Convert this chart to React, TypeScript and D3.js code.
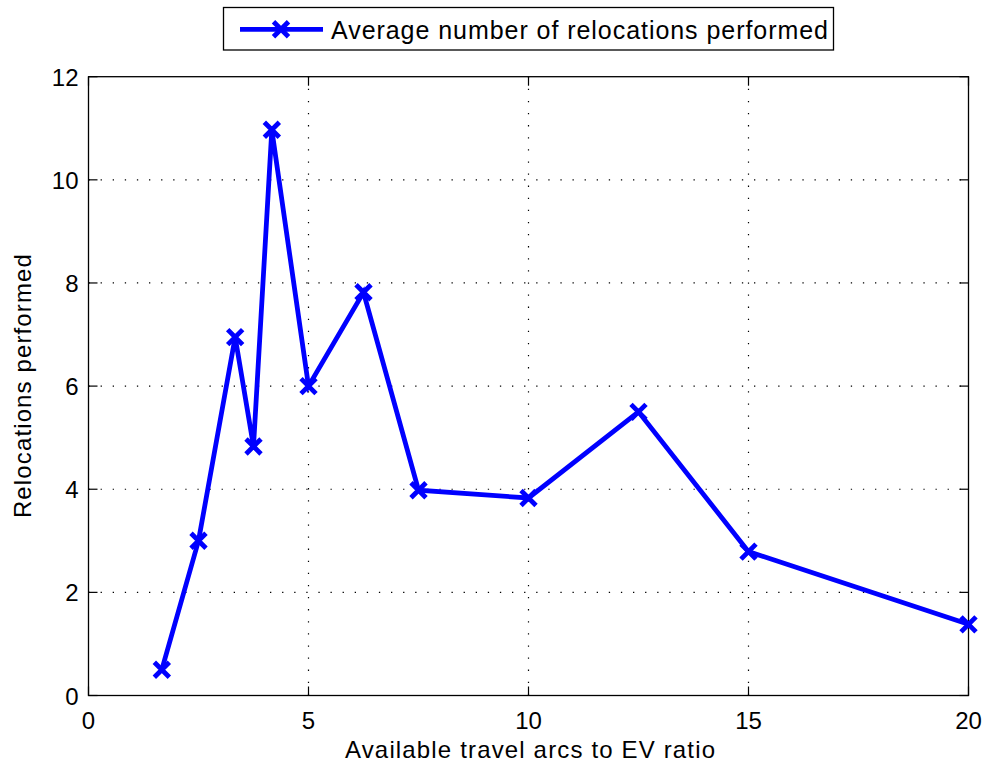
import * as d3 from "d3";
import { useEffect, useRef } from "react";

// ratio of available travel arcs to EVs
const ratios = [5 / 3, 2.5, 10 / 3, 3.75, 25 / 6, 5, 6.25, 7.5, 10, 12.5, 15, 20];
// average relocations performed
const relocations = [0.5, 3.0, 6.95, 4.83, 10.97, 6.0, 7.82, 3.98, 3.83, 5.5, 2.79, 1.38];
const xTicks = [0, 5, 10, 15, 20];
const yTicks = [0, 2, 4, 6, 8, 10, 12];
const legendLabel = "Average number of relocations performed";
const xLabel = "Available travel arcs to EV ratio";
const yLabel = "Relocations performed";

const App = () => {
  const ref = useRef<SVGSVGElement>(null);

  useEffect(() => {
    const W = 984, H = 765;
    const m = { left: 88.5, right: 968.5, top: 76.7, bottom: 695.5 };
    const svg = d3.select(ref.current);
    svg.selectAll("*").remove();

    const x = d3.scaleLinear().domain([0, 20]).range([m.left, m.right]);
    const y = d3.scaleLinear().domain([0, 12]).range([m.bottom, m.top]);
    const font = "'Liberation Sans', Arial, sans-serif";
    const blue = "#0000ff";

    svg.append("rect").attr("width", W).attr("height", H).attr("fill", "white");

    // dotted grid
    const grid = svg.append("g").attr("stroke", "black").attr("stroke-width", 1.2)
      .attr("stroke-dasharray", "1.3,10.8");
    grid.selectAll("line.gx").data(xTicks.slice(1, -1)).enter().append("line")
      .attr("x1", d => x(d)).attr("x2", d => x(d))
      .attr("y1", m.top).attr("y2", m.bottom);
    grid.selectAll("line.gy").data(yTicks.slice(1, -1)).enter().append("line")
      .attr("y1", d => y(d)).attr("y2", d => y(d))
      .attr("x1", m.left).attr("x2", m.right);

    // box
    svg.append("rect")
      .attr("x", m.left).attr("y", m.top)
      .attr("width", m.right - m.left).attr("height", m.bottom - m.top)
      .attr("fill", "none").attr("stroke", "black").attr("stroke-width", 1.3);

    // inward ticks
    const tk = svg.append("g").attr("stroke", "black").attr("stroke-width", 1.2);
    xTicks.forEach(t => {
      tk.append("line").attr("x1", x(t)).attr("x2", x(t)).attr("y1", m.bottom).attr("y2", m.bottom - 9);
      tk.append("line").attr("x1", x(t)).attr("x2", x(t)).attr("y1", m.top).attr("y2", m.top + 9);
    });
    yTicks.forEach(t => {
      tk.append("line").attr("y1", y(t)).attr("y2", y(t)).attr("x1", m.left).attr("x2", m.left + 9);
      tk.append("line").attr("y1", y(t)).attr("y2", y(t)).attr("x1", m.right).attr("x2", m.right - 9);
    });

    const labels = svg.append("g").attr("font-family", font).attr("font-size", 24).attr("fill", "black");
    labels.selectAll("text.xt").data(xTicks).enter().append("text")
      .attr("x", d => x(d)).attr("y", m.bottom + 33)
      .attr("text-anchor", "middle").text(d => d);
    labels.selectAll("text.yt").data(yTicks).enter().append("text")
      .attr("x", m.left - 10).attr("y", d => y(d) + 9)
      .attr("text-anchor", "end").text(d => d);

    labels.append("text").attr("x", 345).attr("y", 758)
      .attr("textLength", 370).attr("lengthAdjust", "spacing").text(xLabel);
    labels.append("text")
      .attr("transform", `translate(31,${(m.top + m.bottom) / 2}) rotate(-90)`)
      .attr("x", -132).attr("textLength", 264).attr("lengthAdjust", "spacing").text(yLabel);

    // series
    const pts = ratios.map((r, i) => [r, relocations[i]] as [number, number]);
    const line = d3.line<[number, number]>().x(d => x(d[0])).y(d => y(d[1]));
    svg.append("path").datum(pts).attr("d", line)
      .attr("fill", "none").attr("stroke", blue).attr("stroke-width", 4.8)
      .attr("stroke-linejoin", "miter");

    const cross = (g: any, cx: number, cy: number, s: number) => {
      g.append("path")
        .attr("d", `M${cx - s},${cy - s}L${cx + s},${cy + s}M${cx - s},${cy + s}L${cx + s},${cy - s}`)
        .attr("stroke", blue).attr("stroke-width", 4.8).attr("fill", "none");
    };
    const mk = svg.append("g");
    pts.forEach(p => cross(mk, x(p[0]), y(p[1]), 7.5));

    // legend
    const lg = svg.append("g");
    lg.append("rect").attr("x", 223.5).attr("y", 7.5).attr("width", 610).attr("height", 42.5)
      .attr("fill", "white").attr("stroke", "black").attr("stroke-width", 1.3);
    lg.append("line").attr("x1", 240).attr("x2", 323).attr("y1", 29.3).attr("y2", 29.3)
      .attr("stroke", blue).attr("stroke-width", 4.8);
    cross(lg, 281, 29.3, 7.5);
    lg.append("text").attr("x", 331).attr("y", 38.5).attr("font-family", font)
      .attr("font-size", 25).attr("fill", "black")
      .attr("textLength", 497).attr("lengthAdjust", "spacing").text(legendLabel);
  }, []);

  return (
    <svg ref={ref} width={984} height={765}
      style={{ position: "absolute", left: 0, top: 0, display: "block" }} />
  );
};

export default App;
